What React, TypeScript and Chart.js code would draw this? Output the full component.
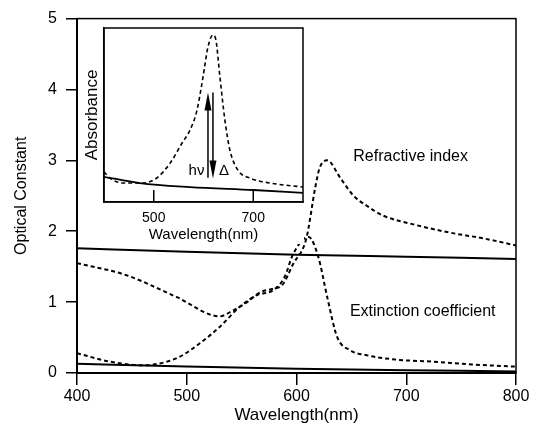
import React, { useEffect, useRef } from 'react';
import { Chart, registerables } from 'chart.js';
Chart.register(...registerables);

const FONT = 'Liberation Sans, Arial, sans-serif';

// Main chart data
const xTicks = [400, 500, 600, 700, 800];
const refrWl = [400, 445, 491, 530, 542, 555, 567, 579, 587, 597, 609, 617, 621, 628, 640, 652, 664, 679, 703, 740, 770, 800];
const refrN = [1.55, 1.38, 1.07, 0.80, 0.88, 1.00, 1.14, 1.19, 1.24, 1.54, 1.90, 2.61, 2.89, 3.00, 2.75, 2.50, 2.36, 2.22, 2.11, 1.98, 1.90, 1.80];
const extWl = [400, 430, 460, 491, 512, 530, 548, 564, 579, 589, 597, 611, 620, 628, 637, 649, 664, 690, 724, 760, 800];
const extK = [0.28, 0.16, 0.11, 0.21, 0.42, 0.65, 0.93, 1.10, 1.17, 1.35, 1.68, 1.92, 1.63, 1.07, 0.51, 0.32, 0.25, 0.19, 0.16, 0.12, 0.09];
const solidWl = [400, 500, 600, 700, 800];
const solidUpper = [1.76, 1.71, 1.67, 1.64, 1.61];
const solidLower = [0.13, 0.09, 0.06, 0.04, 0.02];
const labelTexts = ['Refractive index', 'Extinction coefficient'];
const labelX = [704, 715];
const labelY = [3.06, 0.87];

// Inset data
const insetTicks = [500, 700];
const insetDashWl = [400, 412, 438, 478, 506, 533, 557, 573, 587, 599, 609, 619, 625, 633, 643, 653, 669, 693, 734, 800];
const insetDashA = [0.174, 0.138, 0.109, 0.109, 0.138, 0.224, 0.339, 0.414, 0.529, 0.718, 0.891, 0.96, 0.931, 0.718, 0.471, 0.299, 0.184, 0.138, 0.109, 0.086];
const insetSolidWl = [400, 472, 573, 700, 800];
const insetSolidA = [0.145, 0.109, 0.086, 0.069, 0.053];
const arrowX = [609, 619];
const arrowFrom = [0.14, 0.63];
const arrowTo = [0.63, 0.135];
const insetTexts = ['hν', 'Δ'];
const insetTextX = [586, 641];
const insetTextY = [0.18, 0.18];

function pts(xs: number[], ys: number[]) {
  return xs.map((x, i) => ({ x, y: ys[i] }));
}

const framePlugin = {
  id: 'frame',
  afterDraw(chart: any, _a: any, opts: any) {
    const { ctx, chartArea } = chart;
    const { left, top, right, bottom } = chartArea;
    ctx.save();
    ctx.strokeStyle = '#000';
    ctx.lineWidth = opts.lineWidth || 1.5;
    ctx.strokeRect(left, top, right - left, bottom - top);
    ctx.restore();
  },
};

const mainLabels = {
  id: 'mainLabels',
  afterDraw(chart: any) {
    const { ctx, scales } = chart;
    ctx.save();
    ctx.fillStyle = '#000';
    ctx.font = `16px ${FONT}`;
    ctx.textAlign = 'center';
    ctx.textBaseline = 'middle';
    labelTexts.forEach((t, i) => {
      ctx.fillText(t, scales.x.getPixelForValue(labelX[i]), scales.y.getPixelForValue(labelY[i]));
    });
    ctx.restore();
  },
};

const insetExtras = {
  id: 'insetExtras',
  afterDraw(chart: any) {
    const { ctx, scales, chartArea } = chart;
    const xs = scales.x;
    const ys = scales.y;
    ctx.save();
    ctx.strokeStyle = '#000';
    ctx.fillStyle = '#000';
    ctx.lineWidth = 1.5;
    // inward ticks
    xs.ticks.forEach((t: any) => {
      const px = xs.getPixelForValue(t.value);
      ctx.beginPath();
      ctx.moveTo(px, chartArea.bottom);
      ctx.lineTo(px, chartArea.bottom - 12);
      ctx.stroke();
    });
    // arrows
    arrowX.forEach((ax, i) => {
      const px = xs.getPixelForValue(ax);
      const y0 = ys.getPixelForValue(arrowFrom[i]);
      const y1 = ys.getPixelForValue(arrowTo[i]);
      const dir = y1 < y0 ? 1 : -1;
      ctx.beginPath();
      ctx.moveTo(px, y0);
      ctx.lineTo(px, y1 + dir * 10);
      ctx.stroke();
      ctx.beginPath();
      ctx.moveTo(px, y1);
      ctx.lineTo(px - 3.5, y1 + dir * 18);
      ctx.lineTo(px + 3.5, y1 + dir * 18);
      ctx.closePath();
      ctx.fill();
    });
    ctx.font = `15px ${FONT}`;
    ctx.textAlign = 'center';
    ctx.textBaseline = 'middle';
    insetTexts.forEach((t, i) => {
      ctx.fillText(t, xs.getPixelForValue(insetTextX[i]), ys.getPixelForValue(insetTextY[i]));
    });
    ctx.restore();
  },
};

export default function App() {
  const mainRef = useRef<HTMLCanvasElement>(null);
  const insetRef = useRef<HTMLCanvasElement>(null);

  useEffect(() => {
    const lineDs = (data: any, dashed: boolean, w: number) => ({
      data,
      borderColor: '#000',
      borderWidth: w,
      borderDash: dashed ? [4, 3] : [],
      pointRadius: 0,
      fill: false,
      cubicInterpolationMode: 'monotone' as const,
    });

    const main = new Chart(mainRef.current!, {
      type: 'line',
      data: {
        datasets: [
          lineDs(pts(solidWl, solidUpper), false, 2),
          lineDs(pts(solidWl, solidLower), false, 2),
          lineDs(pts(refrWl, refrN), true, 2),
          lineDs(pts(extWl, extK), true, 2),
        ],
      },
      options: {
        responsive: false,
        animation: false,
        layout: { padding: { top: 17, right: 18, left: 0, bottom: 0 } },
        plugins: { legend: { display: false }, tooltip: { enabled: false }, frame: { lineWidth: 1.5 } } as any,
        scales: {
          x: {
            type: 'linear',
            min: 400,
            max: 800,
            afterBuildTicks: (s: any) => { s.ticks = xTicks.map((v) => ({ value: v })); },
            afterFit: (s: any) => { s.height = 66; },
            grid: { drawOnChartArea: false, drawTicks: true, tickLength: 12, color: '#000', lineWidth: 1.5 },
            border: { display: true, color: '#000', width: 2 },
            ticks: { color: '#000', font: { family: FONT, size: 16 }, padding: 2, maxRotation: 0 },
            title: { display: true, text: 'Wavelength(nm)', color: '#000', font: { family: FONT, size: 17 }, padding: { top: 0, bottom: 13 } },
          },
          y: {
            type: 'linear',
            min: 0,
            max: 5,
            afterFit: (s: any) => { s.width = 77; },
            grid: { drawOnChartArea: false, drawTicks: true, tickLength: 11, color: '#000', lineWidth: 1.5 },
            border: { display: true, color: '#000', width: 2 },
            ticks: { stepSize: 1, color: '#000', font: { family: FONT, size: 16 }, padding: 9 },
            title: { display: true, text: 'Optical Constant', color: '#000', font: { family: FONT, size: 16 }, padding: { top: 12, bottom: 0 } },
          },
        },
      },
      plugins: [framePlugin, mainLabels],
    });

    const inset = new Chart(insetRef.current!, {
      type: 'line',
      data: {
        datasets: [
          lineDs(pts(insetSolidWl, insetSolidA), false, 1.8),
          lineDs(pts(insetDashWl, insetDashA), true, 1.6),
        ],
      },
      options: {
        responsive: false,
        animation: false,
        layout: { padding: { top: 6, right: 1, left: 0, bottom: 0 } },
        plugins: { legend: { display: false }, tooltip: { enabled: false }, frame: { lineWidth: 1.5 } } as any,
        scales: {
          x: {
            type: 'linear',
            min: 400,
            max: 800,
            afterBuildTicks: (s: any) => { s.ticks = insetTicks.map((v) => ({ value: v })); },
            afterFit: (s: any) => { s.height = 42; },
            grid: { display: false, drawTicks: false },
            border: { display: true, color: '#000', width: 1.5 },
            ticks: { color: '#000', font: { family: FONT, size: 14 }, padding: 8, maxRotation: 0 },
            title: { display: true, text: 'Wavelength(nm)', color: '#000', font: { family: FONT, size: 15 }, padding: { top: 0, bottom: 0 } },
          },
          y: {
            type: 'linear',
            min: 0,
            max: 1,
            afterFit: (s: any) => { s.width = 24; },
            grid: { display: false, drawTicks: false },
            border: { display: true, color: '#000', width: 1.5 },
            ticks: { display: false },
            title: { display: true, text: 'Absorbance', color: '#000', font: { family: FONT, size: 17 }, padding: { top: 2, bottom: 0 } },
          },
        },
      },
      plugins: [framePlugin, insetExtras],
    });

    return () => {
      main.destroy();
      inset.destroy();
    };
  }, []);

  return (
    <div style={{ position: 'fixed', left: 0, top: 0, width: 534, height: 439, background: '#fff' }}>
      <canvas ref={mainRef} width={534} height={439} style={{ position: 'absolute', left: 0, top: 0, width: 534, height: 439 }} />
      <canvas ref={insetRef} width={224} height={222} style={{ position: 'absolute', left: 80, top: 22, width: 224, height: 222, background: '#fff' }} />
    </div>
  );
}
